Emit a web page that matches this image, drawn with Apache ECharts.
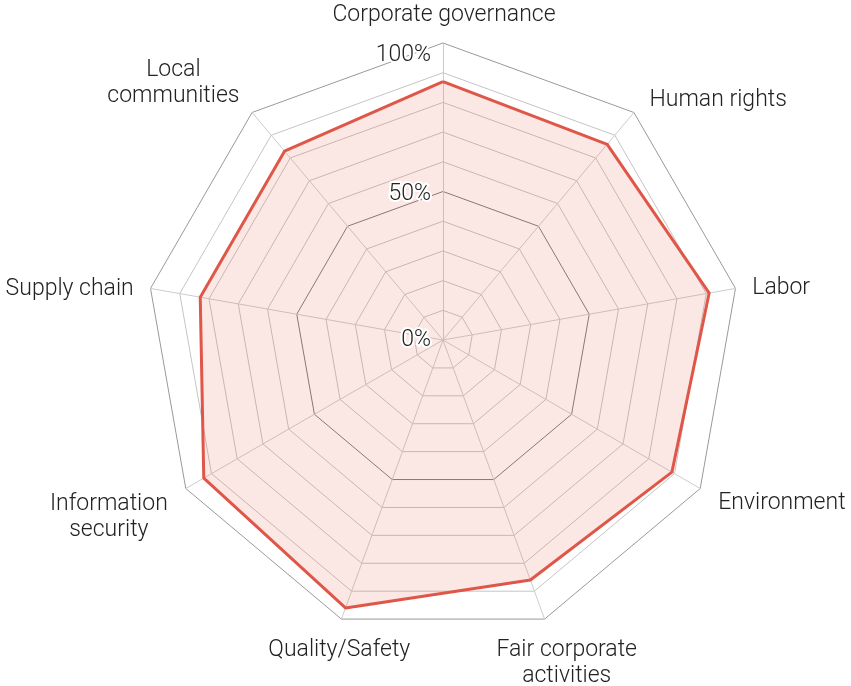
<!DOCTYPE html>
<html><head><meta charset="utf-8">
<script src="https://cdn.jsdelivr.net/npm/echarts@6/dist/echarts.min.js"></script>
<style>html,body{margin:0;padding:0;background:#fff}#c{width:851px;height:686px}</style>
</head><body><div id="c"></div>
<script>
// Data (clockwise from top)
const categories = ['Corporate governance', 'Human rights', 'Labor', 'Environment',
  'Fair corporate\nactivities', 'Quality/Safety', 'Information\nsecurity', 'Supply chain', 'Local\ncommunities'];
const scores = [87, 86, 91, 89, 86, 96, 93, 83, 83];
const tickLabels = { 0: '0%', 50: '50%', 100: '100%' };

// ECharts radar runs counter-clockwise; reorder so the picture reads clockwise
const order = [0].concat(categories.map((_, i) => i).slice(1).reverse());

const FONT = 'Roboto';
const FS = 23;
const LH = 26;

// per-label placement tweaks (style only)
const nameStyle = {
  'Corporate governance': { padding: [0, 0, 0, 2] },
  'Human rights': { padding: [0, 0, 2, 6] },
  'Labor': { padding: [4, 0, 0, 2] },
  'Environment': { padding: [14, 0, 0, 5] },
  'Fair corporate\nactivities': { align: 'center', verticalAlign: 'top', padding: [4, 0, 0, 34] },
  'Quality/Safety': { align: 'center', verticalAlign: 'top', padding: [4, 0, 0, 6] },
  'Information\nsecurity': { padding: [43, 5, 0, 0] },
  'Supply chain': { padding: [6, 2, 0, 0] },
  'Local\ncommunities': { padding: [0, 3, 35, 0] }
};

const tickRich = {
  t100: { fontFamily: FONT, fontWeight: 300, fontSize: FS, color: '#222', padding: [24, 0, 0, 0] },
  t50: { fontFamily: FONT, fontWeight: 300, fontSize: FS, color: '#222', padding: [6, 0, 0, 0] },
  t0: { fontFamily: FONT, fontWeight: 300, fontSize: FS, color: '#222', padding: [0, 0, 0, 0] }
};

const baseIndicator = order.map(i => ({ name: categories[i], min: 0, max: 100 }));

const gridIndicator = baseIndicator.map(ind => {
  const o = Object.assign({}, ind);
  const st = nameStyle[ind.name];
  if (st) o.nameTextStyle = st;
  return o;
});

const labelIndicator = baseIndicator.map((ind, k) => {
  const o = Object.assign({}, ind);
  if (k === 0) {
    o.axisLabel = {
      show: true, margin: 12, fontFamily: FONT, fontWeight: 300, fontSize: FS, color: '#222',
      textBorderColor: '#fff', textBorderWidth: 4,
      formatter: v => tickLabels[v] ? '{t' + v + '|' + tickLabels[v] + '}' : '',
      rich: tickRich
    };
  }
  return o;
});

const ringColors = [];
for (let i = 0; i <= 10; i++) ringColors.push(i === 10 ? '#999999' : (i === 5 ? '#7a7a7a' : '#c4c4c4'));

const common = { center: [443, 340], radius: 297, startAngle: 90, shape: 'polygon', splitNumber: 10 };

const chart = echarts.init(document.getElementById('c'), null, { renderer: 'canvas' });
chart.setOption({
  animation: false,
  radar: [
    Object.assign({}, common, {
      z: 0,
      indicator: gridIndicator,
      axisName: {
        color: '#222', fontFamily: FONT, fontWeight: 300, fontSize: FS, lineHeight: LH,
        formatter: n => n.split('\n').map(s => '{c|' + s + '}').join('\n'),
        rich: { c: { align: 'center', fontFamily: FONT, fontWeight: 300, fontSize: FS, lineHeight: LH, color: '#222' } }
      },
      axisNameGap: 15,
      axisLine: { show: true, lineStyle: { color: '#cccccc', width: 1 } },
      splitLine: { show: true, lineStyle: { color: ringColors, width: 1 } },
      splitArea: { show: false },
      axisTick: { show: false },
      axisLabel: { show: false }
    }),
    Object.assign({}, common, {
      z: 10,
      indicator: labelIndicator,
      axisName: { show: false },
      axisLine: { show: false },
      splitLine: { show: false },
      splitArea: { show: false },
      axisTick: { show: false },
      axisLabel: { show: false }
    })
  ],
  series: [{
    type: 'radar',
    radarIndex: 0,
    symbol: 'none',
    lineStyle: { color: '#DF5548', width: 3 },
    areaStyle: { color: 'rgba(228,105,80,0.22)' },
    data: [{ value: order.map(i => scores[i]) }]
  }]
});
</script></body></html>
